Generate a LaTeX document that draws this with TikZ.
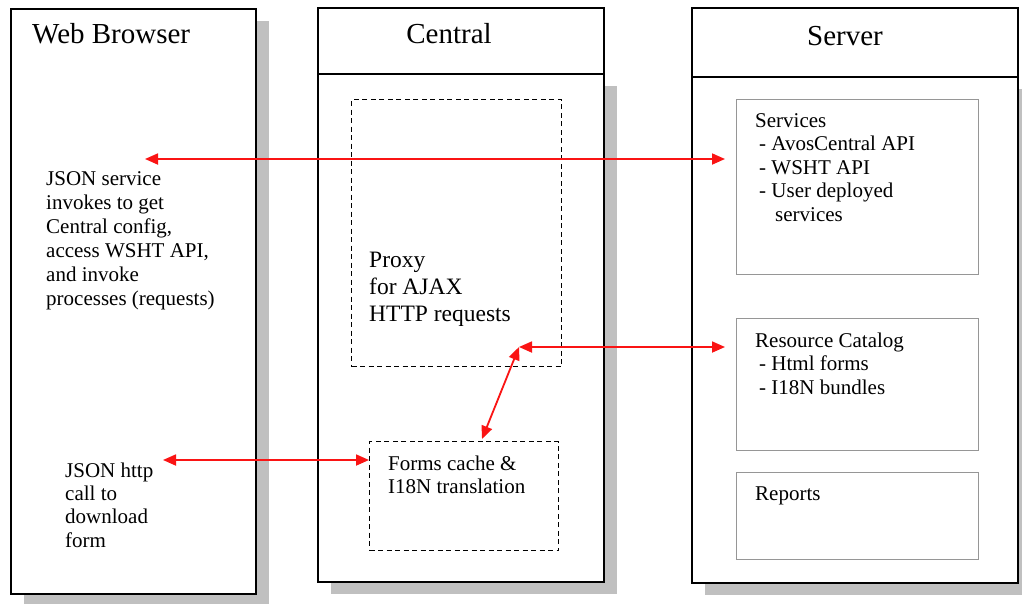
\documentclass[tikz,border=0pt]{standalone}
\usepackage{fontspec}
\setmainfont{Liberation Serif}
\usetikzlibrary{arrows.meta,calc,shadows}
\definecolor{shadowgray}{RGB}{192,192,192}
\definecolor{boxgray}{RGB}{150,150,150}
\definecolor{arrowred}{RGB}{250,20,20}
\begin{document}
\begin{tikzpicture}[x=1pt,y=-1pt,
  outerbox/.style={draw=black, line width=2.6pt, fill=white, inner sep=0pt, outer sep=0pt, anchor=north west},
  shadowed/.style={drop shadow={shadow xshift=13pt, shadow yshift=-12pt, fill=shadowgray, opacity=1}},
  innerbox/.style={draw=boxgray, line width=1.3pt, inner sep=0pt, anchor=north west},
  dashbox/.style={draw=black, line width=1.4pt, dash pattern=on 5pt off 3.5pt, inner sep=0pt, anchor=north west},
  titletext/.style={font=\fontsize{29}{34}\selectfont, inner sep=0pt},
  bodytext/.style={font=\fontsize{21}{23.5}\selectfont, align=left, inner sep=0pt, anchor=base west},
  proxytext/.style={font=\fontsize{23.5}{27}\selectfont, align=left, inner sep=0pt, anchor=base west},
  link/.style={draw=arrowred, line width=1.8pt, {Triangle[length=13pt,width=11pt]}-{Triangle[length=13pt,width=11pt]}}
]
\useasboundingbox (0,0) rectangle (1022,603);

% outer boxes
\node[outerbox, shadowed, minimum width=245pt, minimum height=585pt] (web) at (11,9) {};
\node[outerbox, shadowed, minimum width=286pt, minimum height=508pt] (centralbody) at (318,74) {};
\node[outerbox, minimum width=286pt, minimum height=66pt] (centralhead) at (318,8) {};
\node[outerbox, shadowed, minimum width=326pt, minimum height=506pt] (serverbody) at (692,77) {};
\node[outerbox, minimum width=326pt, minimum height=69pt] (serverhead) at (692,8) {};

% titles
\node[titletext, anchor=base west] (webtitle) at (32,43) {Web Browser};
\node[titletext, anchor=base] (centraltitle) at (449,43) {Central};
\node[titletext, anchor=base] (servertitle) at (845,45) {Server};

% inner boxes
\node[innerbox, minimum width=242pt, minimum height=175pt] (svc) at (736,99) {};
\node[innerbox, minimum width=242pt, minimum height=132pt] (res) at (736,318) {};
\node[innerbox, minimum width=242pt, minimum height=87pt] (rep) at (736,472) {};
\node[dashbox, minimum width=210pt, minimum height=267pt] (proxy) at (351,99) {};
\node[dashbox, minimum width=189pt, minimum height=109pt] (forms) at (369,441) {};

% texts (anchored at the baseline of their last line)
\node[bodytext, font=\fontsize{21}{24}\selectfont] (jsontext) at (46,305) {JSON service\\invokes to get\\Central config,\\access WSHT API,\\and invoke\\processes (requests)};
\node[bodytext, font=\fontsize{21}{23.3}\selectfont] (httptext) at (65,547) {JSON http\\call to\\download\\form};
\node[proxytext] (proxytext) at (369,321) {Proxy\\for AJAX\\HTTP requests};
\node[bodytext, font=\fontsize{21}{23}\selectfont] (formstext) at (388,493) {Forms cache \&\\I18N translation};
\node[bodytext] (svctext) at (755,221) {Services\\\hspace*{4pt}- AvosCentral API\\\hspace*{4pt}- WSHT API\\\hspace*{4pt}- User deployed\\\hspace*{20pt}services};
\node[bodytext] (restext) at (755,394) {Resource Catalog\\\hspace*{4pt}- Html forms\\\hspace*{4pt}- I18N bundles};
\node[bodytext] (reptext) at (755,500) {Reports};

% connectors
\coordinate (a1l) at (145,159);
\coordinate (a1r) at (725,159);
\coordinate (a2l) at (519,347);
\coordinate (a2r) at (725,347);
\coordinate (a3b) at (482,439);
\coordinate (a4l) at (163,460);
\draw[link] (a1l) -- (a1r);
\draw[link] (a2l) -- (a2r);
\draw[link] (a2l) -- (a3b);
\draw[link] (a4l) -- (a4l -| forms.west);
\end{tikzpicture}
\end{document}
